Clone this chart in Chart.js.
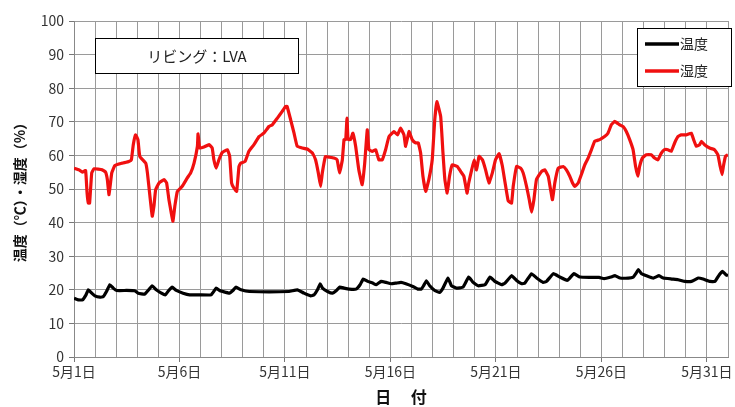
<!DOCTYPE html>
<html lang="ja">
<head>
  <meta charset="UTF-8" />
  <title>リビング：LVA</title>
  <script src="https://cdn.jsdelivr.net/npm/chart.js"></script>
  <style>
    html, body { margin: 0; padding: 0; background: #fff; }
    #wrap { width: 735px; height: 407px; }
  </style>
</head>
<body>
  <div id="wrap"><canvas id="chart"></canvas></div>

  <script>
    // 日付(5月の日、小数は時刻)と値
    const humDays = [1.0,1.24,1.4,1.55,1.62,1.68,1.74,1.84,1.95,2.34,2.5,2.58,2.66,2.79,2.94,3.29,3.6,3.72,3.81,3.92,4.03,4.12,4.4,4.48,4.6,4.71,4.79,4.87,5.03,5.27,5.39,5.5,5.61,5.69,5.78,5.9,6.13,6.37,6.53,6.69,6.85,6.88,6.96,7.16,7.4,7.55,7.63,7.74,7.87,8.03,8.27,8.38,8.47,8.58,8.71,8.82,8.9,9.11,9.29,9.53,9.77,10.0,10.24,10.4,10.64,10.87,11.03,11.1,11.27,11.43,11.58,11.82,12.06,12.3,12.45,12.58,12.69,12.77,12.92,13.08,13.32,13.47,13.59,13.72,13.8,13.88,13.94,13.99,14.11,14.22,14.35,14.5,14.66,14.78,14.9,14.98,15.14,15.3,15.45,15.61,15.77,15.93,16.17,16.33,16.48,16.64,16.72,16.88,17.03,17.19,17.32,17.43,17.54,17.67,17.82,17.98,18.1,18.2,18.38,18.49,18.58,18.69,18.8,18.93,19.17,19.33,19.48,19.63,19.71,19.85,19.97,20.08,20.2,20.36,20.51,20.67,20.83,20.98,21.15,21.3,21.43,21.58,21.74,21.82,21.98,22.17,22.29,22.45,22.58,22.69,22.8,22.92,23.16,23.32,23.48,23.59,23.68,23.79,23.95,24.19,24.34,24.5,24.63,24.74,24.9,25.05,25.21,25.37,25.53,25.68,25.92,26.15,26.31,26.47,26.63,26.87,27.03,27.18,27.34,27.5,27.62,27.73,27.81,27.94,28.13,28.36,28.52,28.68,28.84,28.99,29.15,29.31,29.47,29.63,29.78,30.02,30.26,30.37,30.5,30.66,30.74,30.89,31.13,31.36,31.52,31.63,31.72,31.78,31.88,32.0];
    const humValues = [56.2,55.7,55.0,55.5,48.8,45.8,45.8,54.8,56.0,55.7,55.0,52.8,48.3,54.8,57.0,57.7,58.2,58.7,63.2,66.1,64.7,59.7,57.7,54.8,47.8,41.9,44.9,49.8,51.8,52.8,51.8,46.8,42.9,40.4,44.9,49.3,50.8,53.3,54.8,57.7,62.7,66.4,62.2,62.5,63.2,62.2,58.7,56.2,58.7,60.9,61.7,59.7,51.8,50.3,49.3,56.7,57.7,58.2,61.2,63.2,65.6,66.6,68.6,69.1,71.1,73.1,74.6,74.6,70.6,66.6,62.7,62.2,61.9,60.7,58.7,54.8,50.8,54.8,59.7,59.5,59.2,58.7,54.8,58.7,64.7,64.7,71.1,64.7,64.7,66.6,62.7,55.7,51.3,57.7,67.6,61.7,61.2,61.7,58.7,58.7,61.7,65.6,67.1,66.1,68.1,66.1,62.7,67.1,64.7,63.7,63.7,60.7,53.8,49.3,52.8,58.7,70.6,76.0,71.6,60.7,52.8,48.8,53.8,57.2,56.7,55.2,53.8,48.8,51.8,55.7,58.7,55.7,59.7,58.7,55.7,51.8,54.8,58.7,60.5,57.0,52.0,46.5,45.8,50.8,56.7,56.2,54.8,50.8,46.8,43.1,46.8,52.8,55.2,55.7,53.8,49.8,46.8,51.8,56.2,56.7,55.7,53.8,51.8,50.8,51.8,54.3,57.2,59.2,61.7,64.2,64.7,65.6,66.6,69.1,70.1,69.1,68.6,67.1,64.7,61.7,56.7,53.8,56.7,59.2,60.2,60.2,59.2,58.7,60.7,61.7,61.7,61.2,63.7,65.6,66.1,66.1,66.6,64.7,62.7,63.2,64.2,63.2,62.2,61.7,60.2,56.7,54.3,56.7,59.7,60.2];

    const tempDays = [1.0,1.2,1.4,1.57,1.68,1.84,1.99,2.23,2.39,2.54,2.7,2.86,3.02,3.49,3.88,4.04,4.35,4.54,4.7,4.9,5.14,5.33,5.49,5.65,5.85,6.17,6.48,6.95,7.5,7.74,7.9,8.05,8.37,8.53,8.68,8.92,9.31,11.19,11.59,11.9,12.22,12.38,12.54,12.67,12.78,13.02,13.25,13.44,13.6,13.81,14.05,14.37,14.56,14.71,14.92,15.16,15.32,15.56,15.79,16.03,16.27,16.5,16.73,17.06,17.3,17.46,17.57,17.7,17.86,18.1,18.33,18.49,18.73,18.89,19.13,19.44,19.71,19.92,20.16,20.48,20.72,20.95,21.27,21.43,21.74,21.98,22.22,22.37,22.69,22.93,23.24,23.4,23.72,24.03,24.38,24.5,24.7,24.98,25.45,25.89,26.13,26.45,26.64,26.88,27.27,27.51,27.63,27.75,27.9,28.14,28.46,28.73,28.93,29.33,29.64,29.96,30.27,30.59,30.82,31.14,31.38,31.59,31.74,31.9,32.0];
    const tempValues = [17.5,17.0,17.0,18.5,20.0,19.0,18.2,17.8,18.0,19.5,21.5,20.5,19.8,19.8,19.7,19.0,18.7,20.0,21.2,20.0,19.0,18.5,19.8,20.8,19.8,19.0,18.5,18.5,18.5,20.5,19.8,19.5,19.0,19.8,20.8,20.0,19.5,19.5,20.0,19.0,18.2,18.5,20.0,21.8,20.5,19.5,19.0,19.8,20.8,20.5,20.2,20.2,21.5,23.2,22.5,22.0,21.5,22.5,22.2,21.8,22.0,22.2,21.8,21.0,20.2,20.2,21.2,22.7,21.2,19.8,19.2,20.5,23.5,21.2,20.5,20.8,23.8,22.2,21.2,21.5,23.8,22.5,21.5,22.0,24.2,22.8,21.8,22.0,24.8,23.5,22.2,22.5,24.8,23.8,22.8,23.5,24.8,23.8,23.7,23.7,23.3,23.8,24.2,23.5,23.5,23.8,24.8,26.0,24.8,24.2,23.5,24.2,23.5,23.2,23.0,22.5,22.5,23.5,23.2,22.5,22.5,24.5,25.5,24.5,24.2];

    const seriesNames = ['温度', '湿度'];
    const yTicks = [0, 10, 20, 30, 40, 50, 60, 70, 80, 90, 100];
    const labelDays = [1, 6, 11, 16, 21, 26, 31];
    const roomLabel = 'リビング：LVA';

    const font = '"Noto Sans CJK JP", "Noto Sans", sans-serif';
    const toPoints = (xs, ys) => xs.map((x, i) => ({ x: x, y: ys[i] }));

    // 凡例と部屋名の枠を描く
    const boxes = {
      id: 'boxes',
      afterDraw(chart) {
        const ctx = chart.ctx;
        ctx.save();
        ctx.lineWidth = 1;
        ctx.strokeStyle = '#000';
        ctx.fillStyle = '#fff';

        ctx.fillRect(95, 38, 203, 35);
        ctx.strokeRect(95.5, 38.5, 203, 35);
        ctx.fillStyle = '#222';
        ctx.font = '15px ' + font;
        ctx.textAlign = 'center';
        ctx.textBaseline = 'middle';
        ctx.fillText(roomLabel, 197, 56);

        ctx.fillStyle = '#fff';
        ctx.fillRect(637, 28, 94, 58);
        ctx.strokeRect(637.5, 28.5, 94, 58);
        ctx.textAlign = 'left';
        ctx.font = '14px ' + font;
        chart.data.datasets.forEach((ds, i) => {
          const y = 44 + i * 27;
          ctx.strokeStyle = ds.borderColor;
          ctx.lineWidth = 3.5;
          ctx.beginPath();
          ctx.moveTo(645, y);
          ctx.lineTo(679, y);
          ctx.stroke();
          ctx.fillStyle = '#222';
          ctx.fillText(ds.label, 680, y);
        });
        ctx.restore();
      }
    };

    new Chart(document.getElementById('chart'), {
      type: 'line',
      data: {
        datasets: [
          {
            label: seriesNames[0],
            data: toPoints(tempDays, tempValues),
            borderColor: '#000',
            borderWidth: 3.2,
            pointRadius: 0,
            tension: 0.1
          },
          {
            label: seriesNames[1],
            data: toPoints(humDays, humValues),
            borderColor: '#f01010',
            borderWidth: 3.2,
            pointRadius: 0,
            tension: 0.1
          }
        ]
      },
      options: {
        responsive: true,
        maintainAspectRatio: false,
        animation: false,
        events: [],
        layout: { padding: { top: 21, right: 7, left: 0, bottom: 0 } },
        plugins: { legend: { display: false }, tooltip: { enabled: false } },
        scales: {
          x: {
            type: 'linear',
            min: 1,
            max: 32,
            afterFit: s => { s.height = 50; },
            afterBuildTicks: s => {
              const t = [];
              for (let d = 1; d <= 32; d++) t.push({ value: d });
              s.ticks = t;
            },
            ticks: {
              autoSkip: false,
              maxRotation: 0,
              color: '#333',
              font: { family: font, size: 14 },
              padding: 1,
              callback: v => labelDays.includes(v) ? '5月' + v + '日' : ''
            },
            grid: {
              color: '#9a9a9a',
              tickLength: 5,
              tickColor: c => labelDays.includes(c.tick.value) ? '#777' : 'rgba(0,0,0,0)'
            },
            border: { color: '#888' },
            title: {
              display: true,
              text: '日　 付',
              color: '#111',
              font: { family: font, size: 16, weight: 'bold' },
              padding: { top: 8, bottom: 0 }
            }
          },
          y: {
            min: 0,
            max: 100,
            afterFit: s => { s.width = 74; },
            afterBuildTicks: s => { s.ticks = yTicks.map(v => ({ value: v })); },
            ticks: {
              color: '#333',
              font: { family: font, size: 14 },
              padding: 5
            },
            grid: { color: '#9a9a9a', tickLength: 5, tickColor: '#777' },
            border: { color: '#888' },
            title: {
              display: true,
              text: '温度（℃）・湿度（%）',
              color: '#111',
              font: { family: font, size: 14, weight: 'bold' },
              padding: { top: 11, bottom: 0 }
            }
          }
        }
      },
      plugins: [boxes]
    });
  </script>
</body>
</html>
